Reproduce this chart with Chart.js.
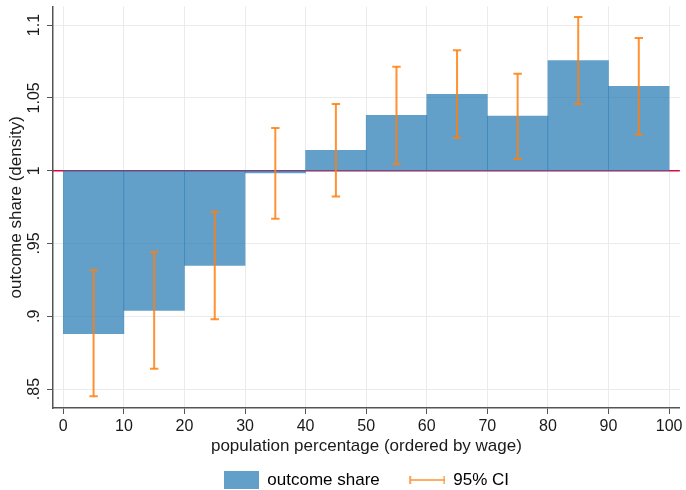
<!DOCTYPE html>
<html lang="en">
<head>
<meta charset="UTF-8">
<title>Outcome share by population percentage</title>
<script src="https://cdn.jsdelivr.net/npm/chart.js"></script>
<style>
  html, body { margin: 0; padding: 0; background: #fff; }
  #wrap { width: 686px; height: 490px; }
</style>
</head>
<body>
<div id="wrap"><canvas id="chart" width="686" height="490"></canvas></div>
<script>
// bins of 10 population percentage points, plotted at their midpoints
const binMid = [5, 15, 25, 35, 45, 55, 65, 75, 85, 95];
const shareValues = [0.888, 0.904, 0.935, 0.9985, 1.014, 1.038, 1.0525, 1.0375, 1.0757, 1.058];
const ciLow = [0.845, 0.864, 0.898, 0.967, 0.9823, 1.0045, 1.0227, 1.0081, 1.0458, 1.0248];
const ciHigh = [0.9318, 0.9442, 0.9718, 1.0293, 1.0458, 1.0714, 1.0827, 1.0666, 1.1055, 1.0912];
const baseline = 1;

const xTicks = [0, 10, 20, 30, 40, 50, 60, 70, 80, 90, 100];
const yTicks = [0.85, 0.9, 0.95, 1, 1.05, 1.1];
const yTickLabels = ['.85', '.9', '.95', '1', '1.05', '1.1'];

const FONT = '"Liberation Sans", Arial, Helvetica, sans-serif';
const BAR_COLOR = 'rgba(31, 119, 180, 0.7)';
const CI_COLOR = 'rgba(255, 127, 14, 0.85)';
const REF_COLOR = 'rgb(220, 10, 60)';
const GRID = '#ebebeb';
const AXIS = '#555555';
const TEXT = '#1a1a1a';

// floating bars from the baseline to each share
const barData = binMid.map((x, i) => ({ x: x, y: [baseline, shareValues[i]] }));

// error bars: low -> high, then a gap
const ciData = [];
binMid.forEach((x, i) => {
    ciData.push({ x: x, y: ciLow[i] });
    ciData.push({ x: x, y: ciHigh[i] });
    ciData.push({ x: x, y: null });
});

// legend symbols
function makeBoxIcon() {
    const c = document.createElement('canvas');
    c.width = 35; c.height = 18;
    const g = c.getContext('2d');
    g.fillStyle = BAR_COLOR;
    g.fillRect(0, 0, 35, 18);
    return c;
}
function makeCiIcon() {
    const c = document.createElement('canvas');
    c.width = 36; c.height = 10;
    const g = c.getContext('2d');
    g.strokeStyle = CI_COLOR;
    g.lineWidth = 1.5;
    g.beginPath();
    g.moveTo(1, 5); g.lineTo(35, 5);
    g.moveTo(1, 1); g.lineTo(1, 9);
    g.moveTo(35, 1); g.lineTo(35, 9);
    g.stroke();
    return c;
}
const boxIcon = makeBoxIcon();
const ciIcon = makeCiIcon();

// horizontal reference line at the baseline, under the bars
const refLine = {
    id: 'refLine',
    beforeDatasetsDraw(chart) {
        const { ctx, chartArea, scales } = chart;
        const y = scales.y.getPixelForValue(baseline);
        ctx.save();
        ctx.strokeStyle = REF_COLOR;
        ctx.lineWidth = 1.5;
        ctx.beginPath();
        ctx.moveTo(chartArea.left, y);
        ctx.lineTo(chartArea.right, y);
        ctx.stroke();
        ctx.restore();
    }
};

new Chart(document.getElementById('chart').getContext('2d'), {
    type: 'bar',
    data: {
        datasets: [
            {
                type: 'line',
                label: '95% CI',
                data: ciData,
                borderColor: CI_COLOR,
                borderWidth: 2,
                spanGaps: false,
                pointStyle: 'line',
                pointRadius: 4.2,
                pointHoverRadius: 4.2,
                pointBorderWidth: 2,
                pointBorderColor: CI_COLOR,
                fill: false,
                order: 0
            },
            {
                type: 'bar',
                label: 'outcome share',
                data: barData,
                backgroundColor: BAR_COLOR,
                borderWidth: 0,
                barPercentage: 1,
                categoryPercentage: 1,
                order: 1
            }
        ]
    },
    options: {
        responsive: false,
        animation: false,
        events: [],
        layout: { padding: { left: 0, right: 6, top: 6, bottom: -8.5 } },
        scales: {
            x: {
                type: 'linear',
                offset: false,
                min: -1.7,
                max: 101.77,
                afterBuildTicks: s => { s.ticks = xTicks.map(v => ({ value: v })); },
                afterFit: s => { s.height = 33.5; },
                grid: { offset: false, color: GRID, tickColor: AXIS, tickLength: 6, lineWidth: 1 },
                border: { color: AXIS, width: 1.5 },
                ticks: { color: TEXT, font: { family: FONT, size: 16 }, padding: 3, maxRotation: 0 },
                title: {
                    display: true,
                    text: 'population percentage (ordered by wage)',
                    color: TEXT,
                    font: { family: FONT, size: 17 },
                    padding: { top: 0, bottom: -14.7 }
                }
            },
            y: {
                type: 'linear',
                min: 0.837,
                max: 1.1127,
                afterBuildTicks: s => { s.ticks = yTicks.map(v => ({ value: v })); },
                afterFit: s => { s.width = 53; },
                grid: { color: GRID, tickColor: AXIS, tickLength: 6, lineWidth: 1 },
                border: { color: AXIS, width: 1.5 },
                ticks: {
                    color: TEXT,
                    font: { family: FONT, size: 16 },
                    minRotation: 90,
                    maxRotation: 90,
                    crossAlign: 'center',
                    padding: -3,
                    callback: v => yTickLabels[yTicks.indexOf(v)]
                },
                title: {
                    display: true,
                    text: 'outcome share (density)',
                    color: TEXT,
                    font: { family: FONT, size: 17 },
                    padding: { top: 6, bottom: 0 }
                }
            }
        },
        plugins: {
            tooltip: { enabled: false },
            legend: {
                position: 'bottom',
                fullSize: false,
                onClick: null,
                labels: {
                    usePointStyle: true,
                    pointStyleWidth: 35,
                    padding: 30,
                    color: TEXT,
                    font: { family: FONT, size: 17 },
                    generateLabels: () => [
                        { text: 'outcome share', pointStyle: boxIcon, fillStyle: BAR_COLOR, strokeStyle: BAR_COLOR, lineWidth: 0, hidden: false, datasetIndex: 1 },
                        { text: '95% CI', pointStyle: ciIcon, fillStyle: CI_COLOR, strokeStyle: CI_COLOR, lineWidth: 0, hidden: false, datasetIndex: 0 }
                    ]
                }
            }
        }
    },
    plugins: [refLine]
});
</script>
</body>
</html>
